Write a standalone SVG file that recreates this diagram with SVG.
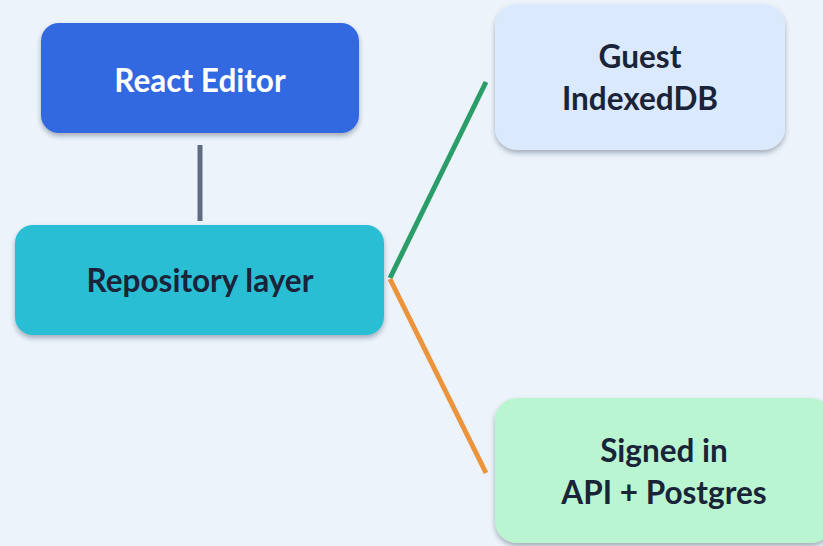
<svg xmlns="http://www.w3.org/2000/svg" width="823" height="546" viewBox="0 0 823 546">
  <defs>
    <filter id="shadow" x="-10%" y="-10%" width="120%" height="130%">
      <feDropShadow dx="0" dy="3" stdDeviation="2.5" flood-color="#1e293b" flood-opacity="0.35"/>
    </filter>
  </defs>
  <style>
    .box { filter: url(#shadow); }
    .label { font-family: "Lato", "Liberation Sans", sans-serif; font-weight: 700; font-size: 31.5px; text-anchor: middle; }
    .light { fill: #ffffff; }
    .dark { fill: #1a2438; }
    .edge { fill: none; stroke-width: 5; stroke-linecap: butt; }
  </style>
  <rect width="823" height="546" fill="#ecf3fb"/>

  <g id="connectors">
    <line class="edge" x1="200" y1="145" x2="200" y2="221" stroke="#5e6b82" stroke-width="6"/>
    <line class="edge" x1="390" y1="278" x2="486" y2="82" stroke="#2a9d69"/>
    <line class="edge" x1="390" y1="279" x2="486" y2="473" stroke="#ec943c"/>
  </g>

  <g id="react-editor">
    <rect class="box" x="41" y="23" width="318" height="110" rx="18" fill="#3168e0"/>
    <text class="label light" x="200" y="92" font-size="33">React Editor</text>
  </g>

  <g id="repository-layer">
    <rect class="box" x="15" y="225" width="369" height="110" rx="18" fill="#2cbed4"/>
    <text class="label dark" x="200" y="292">Repository layer</text>
  </g>

  <g id="guest-indexeddb">
    <rect class="box" x="495" y="4" width="290" height="146" rx="22" fill="#dbe9fd"/>
    <text class="label dark" x="640" y="68">Guest</text>
    <text class="label dark" x="640" y="110">IndexedDB</text>
  </g>

  <g id="signed-in-api">
    <rect class="box" x="495" y="398" width="338" height="145" rx="22" fill="#baf5d2"/>
    <text class="label dark" x="664" y="462">Signed in</text>
    <text class="label dark" x="664" y="504">API + Postgres</text>
  </g>
</svg>
